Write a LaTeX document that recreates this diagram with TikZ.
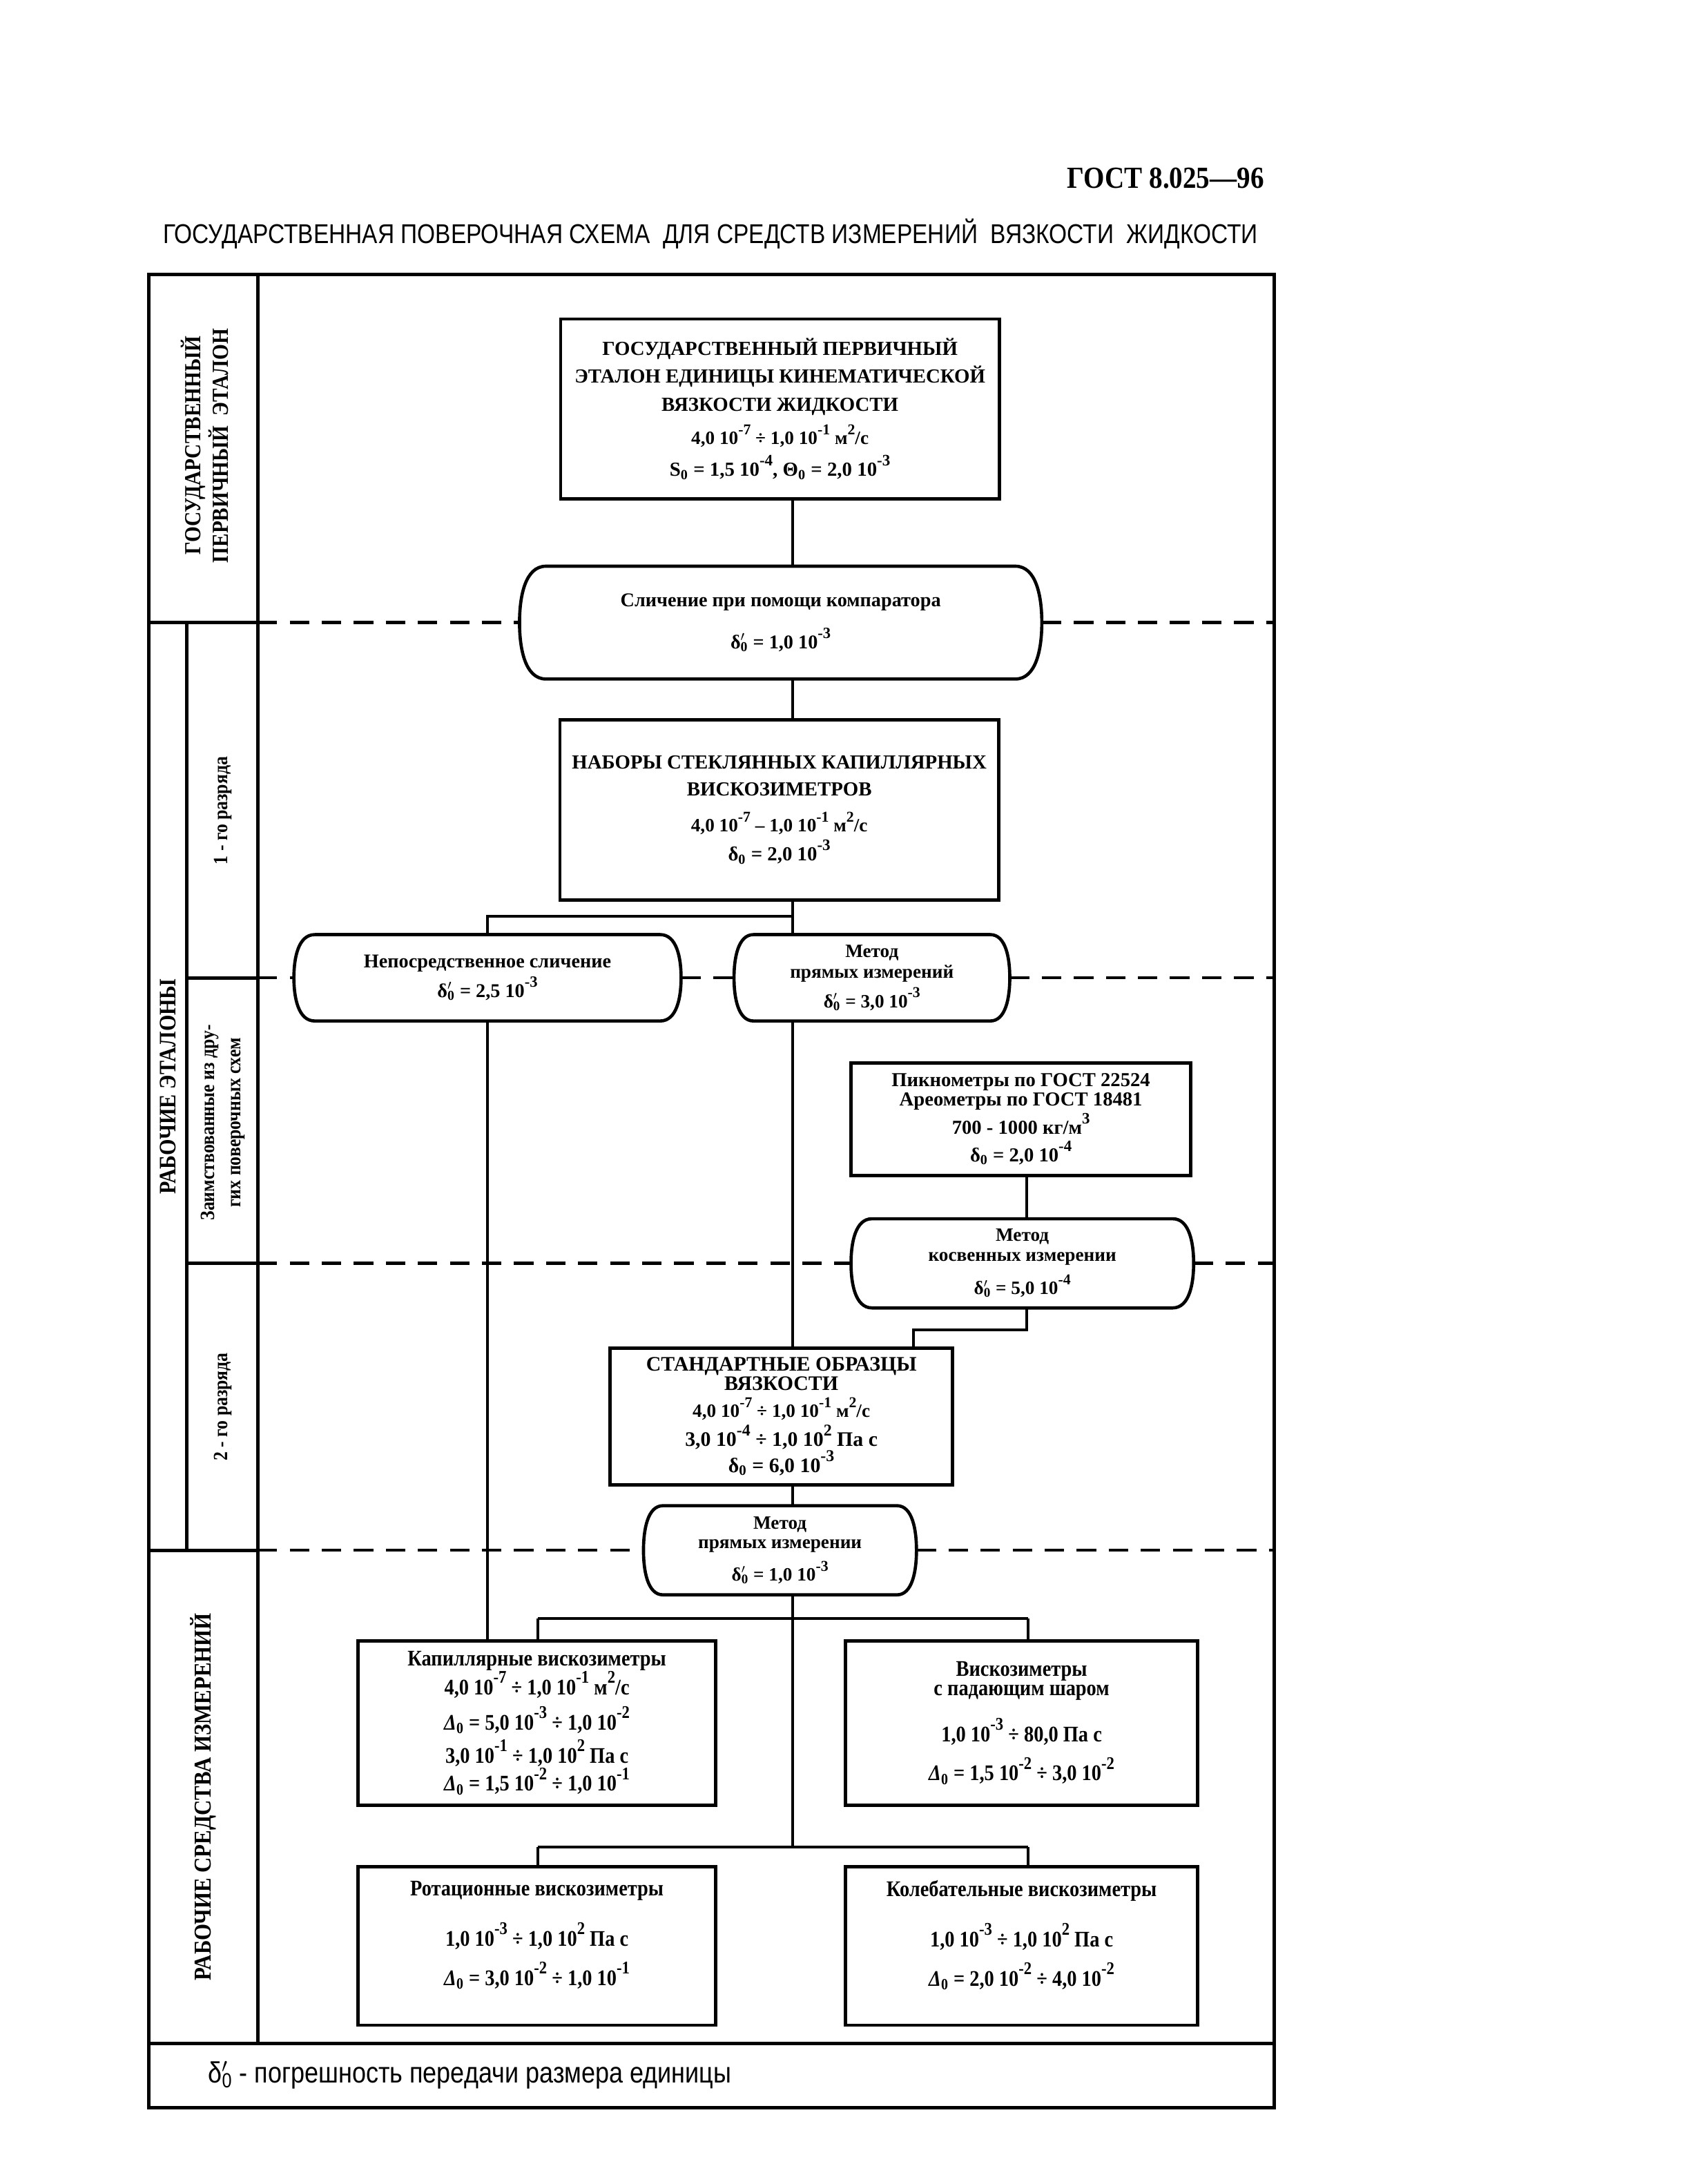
\documentclass[tikz,border=0pt]{standalone}
\usepackage{fontspec}
\setmainfont{Liberation Serif}
\newfontfamily\cond[FakeStretch=0.88]{Liberation Serif}
\newfontfamily\nsans[FakeStretch=0.85]{Liberation Sans}
\usetikzlibrary{calc}
\makeatletter
\newcommand\tsup[1]{\raisebox{0.52em}{\fontsize{\the\dimexpr\f@size pt*80/100\relax}{1em}\selectfont #1}}
\makeatother
\newcommand\tsub[1]{\textsubscript{#1}}
\newcommand\dlp{δ\rlap{$'$}\textsubscript{0}}
\newcommand\Dz{{\itshape Δ}\textsubscript{0}}
\newcommand\barrel[2]{\draw[line width=2.3pt]
  ($(#1.north west)+(#2,0)$) -- ($(#1.north east)+(-#2,0)$)
  .. controls ($(#1.north east)+(-0.2*#2,0)$) and ($(#1.north east)!0.55!(#1.east)$) .. (#1.east)
  .. controls ($(#1.south east)!0.55!(#1.east)$) and ($(#1.south east)+(-0.2*#2,0)$) .. ($(#1.south east)+(-#2,0)$)
  -- ($(#1.south west)+(#2,0)$)
  .. controls ($(#1.south west)+(0.2*#2,0)$) and ($(#1.south west)!0.55!(#1.west)$) .. (#1.west)
  .. controls ($(#1.north west)!0.55!(#1.west)$) and ($(#1.north west)+(0.2*#2,0)$) .. cycle;}
\begin{document}
\begin{tikzpicture}[x=1pt,y=-1pt,
  box/.style={draw,line width=2.4pt,inner sep=2pt,outer sep=0pt,align=center},
  ov/.style={inner sep=0pt,outer sep=0pt,align=center},
  conn/.style={line width=2pt},
  frm/.style={line width=2.4pt},
  dline/.style={line width=2.2pt,dash pattern=on 14pt off 9pt},
  vlab/.style={rotate=90,align=center}
]
\useasboundingbox (0,0) rectangle (1215.5,1568);
% header
\node[anchor=east,font={\cond\bfseries\fontsize{22}{24}\selectfont}] (gost) at (911,128) {ГОСТ 8.025—96};
\node[anchor=west,inner sep=0pt] (title) at (117,168) {\resizebox{786pt}{!}{\nsans\fontsize{19}{20}\selectfont ГОСУДАРСТВЕННАЯ ПОВЕРОЧНАЯ СХЕМА\ \ ДЛЯ СРЕДСТВ ИЗМЕРЕНИЙ\ \ ВЯЗКОСТИ\ \ ЖИДКОСТИ}};
% frame coordinates
\coordinate (fx0) at (107,197);
\coordinate (fx1) at (134,197);
\coordinate (fl) at (185,197);
\coordinate (fr) at (915,197);
\coordinate (fb) at (107,1513);
\coordinate (ffoot) at (107,1467);
\draw[frm] (fx0) rectangle (fr |- fb);
\draw[frm] (ffoot) -- (ffoot -| fr);
\draw[frm] (fl) -- (fl |- ffoot);
% nodes
\node[box,minimum width=315pt,minimum height=129pt,font={\bfseries\fontsize{14.3}{20}\selectfont}] (prim) at (560,293.5)
 {ГОСУДАРСТВЕННЫЙ ПЕРВИЧНЫЙ\\ЭТАЛОН ЕДИНИЦЫ КИНЕМАТИЧЕСКОЙ\\ВЯЗКОСТИ ЖИДКОСТИ\\[4pt]\fontsize{13.5}{20}\selectfont 4,0 10\tsup{-7} ÷ 1,0 10\tsup{-1} м\tsup{2}/с\\[3pt]S\tsub{0} = 1,5 10\tsup{-4}, Θ\tsub{0} = 2,0 10\tsup{-3}};
\node[ov,minimum width=375pt,minimum height=81pt,font={\bfseries\fontsize{14}{30}\selectfont}] (cmp) at (560.5,447)
 {Сличение при помощи компаратора\\\dlp{} = 1,0 10\tsup{-3}};
\barrel{cmp}{19}
\node[box,minimum width=315pt,minimum height=129pt,font={\bfseries\fontsize{14.3}{19}\selectfont}] (sets) at (559.5,581.5)
 {НАБОРЫ СТЕКЛЯННЫХ КАПИЛЛЯРНЫХ\\ВИСКОЗИМЕТРОВ\\[7pt]\fontsize{13.5}{19}\selectfont 4,0 10\tsup{-7} – 1,0 10\tsup{-1} м\tsup{2}/с\\[2pt]δ\tsub{0} = 2,0 10\tsup{-3}};
\node[ov,minimum width=278pt,minimum height=62pt,font={\bfseries\fontsize{14}{21}\selectfont}] (direct) at (350,702)
 {Непосредственное сличение\\\dlp{} = 2,5 10\tsup{-3}};
\barrel{direct}{15}
\node[ov,minimum width=198pt,minimum height=62pt,font={\bfseries\fontsize{13.5}{15}\selectfont}] (m1) at (626,702)
 {Метод\\прямых измерений\\[3pt]\dlp{} = 3,0 10\tsup{-3}};
\barrel{m1}{14}
\node[box,minimum width=244pt,minimum height=81pt,font={\bfseries\fontsize{14.2}{14}\selectfont}] (pik) at (733,803.5)
 {Пикнометры по ГОСТ 22524\\Ареометры по ГОСТ 18481\\[1pt]700 - 1000 кг/м\tsup{3}\\[4pt]δ\tsub{0} = 2,0 10\tsup{-4}};
\node[ov,minimum width=246pt,minimum height=64pt,font={\bfseries\fontsize{13.5}{14}\selectfont}] (m2) at (734,907)
 {Метод\\косвенных измерении\\[6pt]\dlp{} = 5,0 10\tsup{-4}};
\barrel{m2}{15}
\node[box,minimum width=246pt,minimum height=98pt,font={\bfseries\fontsize{14.8}{14}\selectfont}] (std) at (561,1017)
 {СТАНДАРТНЫЕ ОБРАЗЦЫ\\ВЯЗКОСТИ\\[4pt]\fontsize{13.5}{14}\selectfont 4,0 10\tsup{-7} ÷ 1,0 10\tsup{-1} м\tsup{2}/с\\[2pt]3,0 10\tsup{-4} ÷ 1,0 10\tsup{2} Па с\\[0pt]δ\tsub{0} = 6,0 10\tsup{-3}};
\node[ov,minimum width=196pt,minimum height=64pt,font={\bfseries\fontsize{13.5}{14}\selectfont}] (m3) at (560,1113)
 {Метод\\прямых измерении\\[5pt]\dlp{} = 1,0 10\tsup{-3}};
\barrel{m3}{14}
\node[box,minimum width=257pt,minimum height=118pt,font={\cond\bfseries\fontsize{16}{21}\selectfont}] (cap) at (385.5,1237)
 {Капиллярные вискозиметры\\4,0 10\tsup{-7} ÷ 1,0 10\tsup{-1} м\tsup{2}/с\\[4pt]\Dz{} = 5,0 10\tsup{-3} ÷ 1,0 10\tsup{-2}\\[3pt]3,0 10\tsup{-1} ÷ 1,0 10\tsup{2} Па с\\[-1pt]\Dz{} = 1,5 10\tsup{-2} ÷ 1,0 10\tsup{-1}};
\node[box,minimum width=253pt,minimum height=118pt,font={\cond\bfseries\fontsize{16}{21}\selectfont}] (ball) at (733.5,1237)
 {Вискозиметры\\[-7pt]с падающим шаром\\[12pt]1,0 10\tsup{-3} ÷ 80,0 Па с\\[7pt]\Dz{} = 1,5 10\tsup{-2} ÷ 3,0 10\tsup{-2}};
\node[box,minimum width=257pt,minimum height=114pt,font={\cond\bfseries\fontsize{16}{28}\selectfont}] (rot) at (385.5,1397)
 {Ротационные вискозиметры\\[8pt]1,0 10\tsup{-3} ÷ 1,0 10\tsup{2} Па с\\\Dz{} = 3,0 10\tsup{-2} ÷ 1,0 10\tsup{-1}\\[-10pt]\mbox{}};
\node[box,minimum width=253pt,minimum height=114pt,font={\cond\bfseries\fontsize{16}{28}\selectfont}] (osc) at (733.5,1397)
 {Колебательные вискозиметры\\[8pt]1,0 10\tsup{-3} ÷ 1,0 10\tsup{2} Па с\\\Dz{} = 2,0 10\tsup{-2} ÷ 4,0 10\tsup{-2}\\[-10pt]\mbox{}};
% left column
\draw[frm] (fx1 |- cmp.west) -- (fx1 |- m3.west);
\draw[frm] (fx0 |- cmp.west) -- (fl |- cmp.west);
\draw[frm] (fx1 |- direct.west) -- (fl |- direct.west);
\draw[frm] (fx1 |- m2.west) -- (fl |- m2.west);
\draw[frm] (fx0 |- m3.west) -- (fl |- m3.west);
% dashed level lines
\draw[dline] (fl |- cmp.west) -- (cmp.west);
\draw[dline] (cmp.east) -- (fr |- cmp.east);
\draw[dline] (fl |- direct.west) -- (direct.west);
\draw[dline] (direct.east) -- (m1.west);
\draw[dline] (m1.east) -- (fr |- m1.east);
\draw[dline] (fl |- m2.west) -- (m2.west);
\draw[dline] (m2.east) -- (fr |- m2.east);
\draw[dline] (fl |- m3.west) -- (m3.west);
\draw[dline] (m3.east) -- (fr |- m3.east);
% labels
\node[vlab,font={\cond\bfseries\fontsize{16.5}{20}\selectfont}] (lgos) at (147,320) {ГОСУДАРСТВЕННЫЙ\\ПЕРВИЧНЫЙ\ \ ЭТАЛОН};
\node[vlab,font={\cond\bfseries\fontsize{17}{18}\selectfont}] (lwork) at (120.5,780) {РАБОЧИЕ ЭТАЛОНЫ};
\node[vlab,font={\cond\bfseries\fontsize{14.5}{18}\selectfont}] (lr1) at (160,582) {1 - го разряда};
\node[vlab,font={\cond\bfseries\fontsize{14.5}{19}\selectfont}] (lborrow) at (160,806) {Заимствованные из дру-\\гих поверочных схем};
\node[vlab,font={\cond\bfseries\fontsize{14.5}{18}\selectfont}] (lr2) at (160,1010) {2 - го разряда};
\node[vlab,font={\cond\bfseries\fontsize{17.4}{18}\selectfont}] (lsi) at (146,1290) {РАБОЧИЕ СРЕДСТВА ИЗМЕРЕНИЙ};
\node[anchor=west,font={\nsans\fontsize{21}{22}\selectfont}] (foot) at (146,1490) {\dlp\ - погрешность передачи размера единицы};
% connectors
\coordinate (ax) at (569,0);
\coordinate (px) at (737,0);
\coordinate (bl) at (386,0);
\coordinate (br) at (738,0);
\coordinate (j1) at (569,658);
\coordinate (j2) at (656,955);
\coordinate (j3) at (569,1162);
\coordinate (j4) at (569,1326);
\draw[conn] (prim.south -| ax) -- (cmp.north -| ax);
\draw[conn] (cmp.south -| ax) -- (sets.north -| ax);
\draw[conn] (sets.south -| ax) -- (m1.north -| ax);
\draw[conn] (j1) -| (direct.north);
\draw[conn] (direct.south) -- (direct.south |- cap.north);
\draw[conn] (m1.south -| ax) -- (std.north -| ax);
\draw[conn] (pik.south -| px) -- (m2.north -| px);
\draw[conn] (m2.south -| px) |- (j2) -- (j2 |- std.north);
\draw[conn] (std.south -| ax) -- (m3.north -| ax);
\draw[conn] (m3.south -| ax) -- (j4);
\draw[conn] (j3 -| bl) -- (j3 -| br);
\draw[conn] (j3 -| bl) -- (cap.north -| bl);
\draw[conn] (j3 -| br) -- (ball.north -| br);
\draw[conn] (j4 -| bl) -- (j4 -| br);
\draw[conn] (j4 -| bl) -- (rot.north -| bl);
\draw[conn] (j4 -| br) -- (osc.north -| br);
\end{tikzpicture}
\end{document}
